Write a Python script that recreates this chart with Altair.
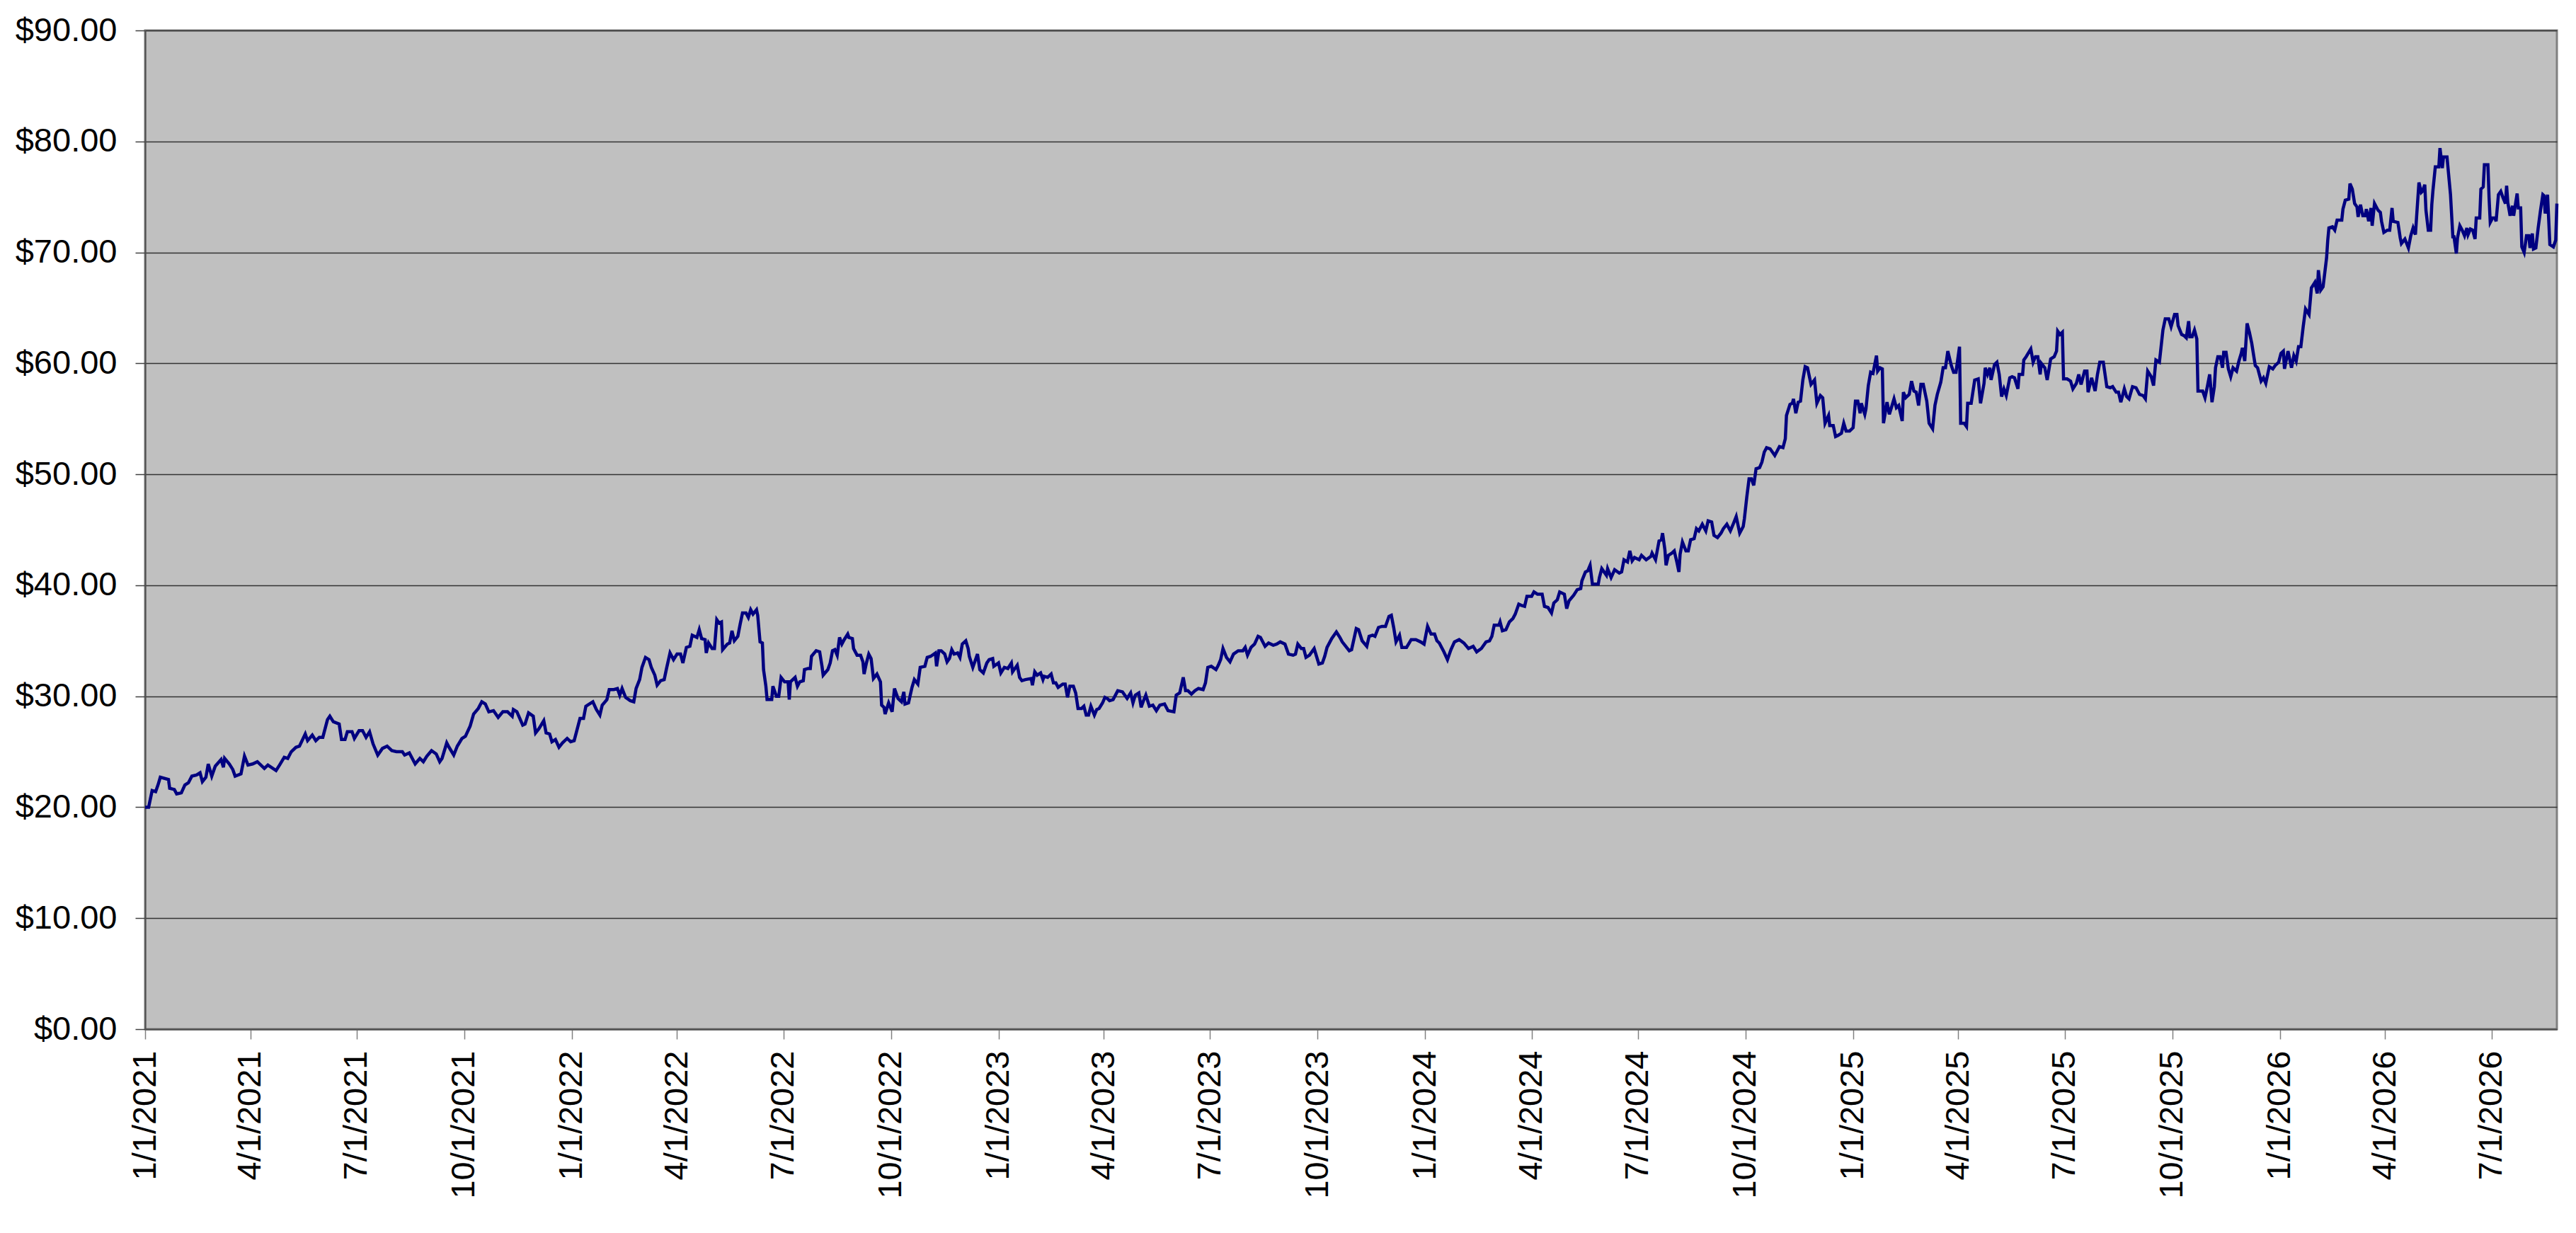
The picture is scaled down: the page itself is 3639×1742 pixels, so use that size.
import altair as alt
import pandas as pd

# (days since 1/1/2021, price), segment by segment
seg_2021 = [(0, 20.0), (3, 20.0), (6, 21.5), (9, 21.4), (11, 22.0), (13, 22.7), (20, 22.5), (21, 21.7),
            (25, 21.6), (27, 21.2), (31, 21.3), (34, 22.0), (37, 22.2), (40, 22.8), (44, 22.9), (47, 23.1),
            (49, 22.3), (52, 22.7), (54, 23.9), (57, 22.8), (60, 23.7), (65, 24.3), (67, 23.6), (68, 24.4),
            (72, 23.9), (75, 23.4), (77, 22.8), (82, 23.0), (85, 24.6), (88, 23.8), (92, 23.9), (96, 24.1),
            (102, 23.5), (105, 23.8), (112, 23.3), (115, 23.8), (119, 24.5), (122, 24.4), (125, 25.0),
            (129, 25.4), (132, 25.5), (137, 26.6), (139, 26.0), (143, 26.5), (146, 26.0), (149, 26.3),
            (152, 26.3), (156, 27.9), (158, 28.2), (161, 27.7), (166, 27.5), (168, 26.1), (171, 26.1),
            (173, 26.8), (177, 26.8), (179, 26.2), (183, 26.9), (186, 26.9), (189, 26.3), (192, 26.8),
            (195, 25.7), (199, 24.7), (203, 25.3), (207, 25.5), (211, 25.1), (215, 25.0), (220, 25.0),
            (222, 24.7), (226, 24.9), (231, 23.9), (235, 24.4), (238, 24.1), (241, 24.6), (245, 25.1),
            (249, 24.8), (252, 24.1), (254, 24.4), (258, 25.8), (260, 25.4), (264, 24.7), (267, 25.5),
            (271, 26.2), (274, 26.4), (278, 27.3), (281, 28.4), (285, 28.9), (288, 29.5), (291, 29.3),
            (294, 28.6), (298, 28.7), (302, 28.1), (306, 28.6), (310, 28.6), (314, 28.2), (315, 28.8),
            (318, 28.6), (323, 27.4), (325, 27.5), (328, 28.5), (332, 28.2), (334, 26.7), (337, 27.1),
            (341, 27.8), (343, 26.7), (346, 26.6), (348, 25.9)]

seg_2022 = [(351, 26.1), (354, 25.4), (357, 25.8), (361, 26.2), (364, 25.9), (367, 26.0), (369, 26.8),
            (372, 28.0), (375, 28.0), (377, 29.1), (380, 29.3), (383, 29.5), (386, 28.8), (389, 28.3),
            (391, 29.2), (395, 29.7), (397, 30.6), (401, 30.6), (404, 30.7), (406, 30.1), (408, 30.7),
            (411, 29.9), (415, 29.6), (418, 29.5), (420, 30.7), (423, 31.5), (425, 32.6), (428, 33.5),
            (431, 33.3), (433, 32.6), (436, 31.9), (438, 31.0), (441, 31.4), (444, 31.5), (446, 32.5),
            (449, 33.9), (452, 33.3), (455, 33.8), (458, 33.8), (460, 33.0), (463, 34.4), (466, 34.5),
            (468, 35.5), (472, 35.3), (474, 36.0), (476, 35.2), (479, 35.1), (480, 33.9), (482, 34.8),
            (485, 34.3), (487, 34.3), (489, 36.9), (491, 36.6), (493, 36.7), (494, 34.2), (498, 34.7),
            (500, 34.8), (502, 35.9), (504, 35.0), (507, 35.4), (509, 36.5), (511, 37.5), (514, 37.5),
            (516, 37.1), (518, 37.8), (520, 37.4), (523, 37.8), (524, 37.3), (526, 34.9), (528, 34.8),
            (529, 32.4), (531, 30.9), (532, 29.7), (536, 29.7), (537, 30.9), (540, 30.0), (542, 30.0),
            (544, 31.7), (547, 31.3), (550, 31.3), (551, 29.7), (552, 31.3), (556, 31.7), (558, 30.9),
            (560, 31.3), (563, 31.4), (564, 32.4), (567, 32.5), (569, 32.5), (570, 33.6), (574, 34.1),
            (577, 34.0), (579, 32.7), (580, 31.9), (584, 32.4), (586, 33.0), (588, 34.1), (590, 34.2),
            (592, 33.7), (594, 35.3), (596, 34.7), (598, 35.1), (601, 35.6), (602, 35.3), (605, 35.2),
            (606, 34.3), (609, 33.7), (612, 33.7), (614, 33.1), (615, 32.0), (617, 33.0), (619, 33.8),
            (621, 33.4), (623, 31.6), (626, 32.0), (629, 31.3), (630, 29.2), (632, 29.0), (633, 28.4),
            (636, 29.4), (639, 28.6), (641, 30.7), (644, 29.8), (647, 29.5), (649, 30.4), (650, 29.3),
            (653, 29.4), (656, 30.8), (658, 31.5), (661, 31.1), (663, 32.6), (667, 32.7), (669, 33.5),
            (672, 33.6), (676, 33.9), (677, 32.7), (679, 34.1), (681, 34.1), (684, 33.8), (686, 33.1),
            (688, 33.4), (690, 34.2), (692, 33.8)]

seg_2023 = [(695, 33.9), (697, 33.5), (699, 34.7), (702, 35.0), (704, 34.3), (705, 33.6), (708, 32.6),
            (712, 33.8), (714, 32.4), (717, 32.1), (720, 33.0), (722, 33.3), (725, 33.4), (726, 32.7),
            (730, 33.0), (732, 32.1), (735, 32.6), (738, 32.5), (741, 33.0), (742, 32.2), (746, 32.8),
            (748, 31.7), (750, 31.4), (753, 31.5), (758, 31.6), (759, 31.0), (761, 32.2), (763, 31.9),
            (766, 32.1), (768, 31.5), (769, 31.8), (772, 31.7), (775, 32.0), (777, 31.2), (779, 31.2),
            (781, 30.8), (785, 31.1), (787, 31.1), (789, 29.9), (791, 30.9), (794, 30.9), (796, 30.3),
            (798, 28.9), (801, 28.9), (803, 29.1), (805, 28.3), (807, 28.3), (809, 29.1), (812, 28.3),
            (814, 28.8), (816, 28.9), (819, 29.4), (821, 29.9), (823, 29.8), (825, 29.6), (828, 29.7),
            (832, 30.5), (836, 30.4), (840, 29.8), (843, 30.3), (845, 29.4), (847, 30.1), (850, 30.3),
            (852, 29.0), (854, 29.6), (856, 30.1), (859, 29.1), (862, 29.2), (865, 28.7), (868, 29.2),
            (872, 29.3), (875, 28.7), (880, 28.6), (882, 30.1), (885, 30.3), (888, 31.7), (890, 30.5),
            (892, 30.5), (895, 30.2), (898, 30.5), (901, 30.7), (905, 30.6), (907, 31.2), (909, 32.6),
            (912, 32.7), (916, 32.4), (918, 32.8), (920, 33.3), (922, 34.3), (925, 33.5), (928, 33.1),
            (931, 33.8), (935, 34.1), (939, 34.1), (941, 34.4), (943, 33.7), (946, 34.4), (949, 34.7),
            (952, 35.4), (954, 35.3), (958, 34.5), (961, 34.8), (965, 34.6), (968, 34.7), (971, 34.9),
            (975, 34.7), (978, 33.8), (982, 33.7), (984, 33.8), (986, 34.7), (989, 34.3), (991, 34.3),
            (993, 33.5), (996, 33.7), (1000, 34.3), (1002, 33.6), (1004, 32.9), (1007, 33.0), (1009, 33.6),
            (1011, 34.4), (1015, 35.2), (1019, 35.8), (1022, 35.3), (1024, 34.9), (1027, 34.5),
            (1030, 34.1), (1032, 34.2)]

seg_2024 = [(1036, 36.1), (1038, 36.0), (1041, 35.0), (1045, 34.5), (1047, 35.4), (1050, 35.5),
            (1052, 35.4), (1055, 36.2), (1058, 36.3), (1061, 36.3), (1064, 37.2), (1066, 37.3),
            (1068, 36.2), (1070, 34.9), (1073, 35.5), (1075, 34.4), (1079, 34.4), (1083, 35.1),
            (1087, 35.1), (1091, 34.9), (1094, 34.7), (1097, 36.3), (1100, 35.6), (1103, 35.6),
            (1105, 35.0), (1107, 34.8), (1111, 34.0), (1114, 33.3), (1117, 34.2), (1120, 34.9),
            (1124, 35.1), (1128, 34.8), (1132, 34.3), (1136, 34.5), (1139, 34.0), (1143, 34.3),
            (1147, 34.9), (1150, 35.0), (1152, 35.4), (1154, 36.4), (1158, 36.4), (1159, 36.7),
            (1161, 35.9), (1164, 36.0), (1167, 36.7), (1170, 37.0), (1172, 37.4), (1175, 38.3),
            (1177, 38.2), (1180, 38.1), (1182, 39.0), (1186, 39.0), (1188, 39.4), (1191, 39.2),
            (1195, 39.2), (1197, 38.1), (1200, 38.0), (1203, 37.5), (1205, 38.4), (1208, 38.7),
            (1210, 39.4), (1214, 39.2), (1216, 37.9), (1218, 38.6), (1222, 39.1), (1225, 39.6),
            (1228, 39.7), (1229, 40.4), (1232, 41.2), (1234, 41.3), (1236, 41.8), (1238, 40.1),
            (1243, 40.1), (1244, 40.7), (1246, 41.5), (1250, 40.9), (1251, 41.5), (1254, 40.7),
            (1257, 41.4), (1261, 41.1), (1263, 41.2), (1265, 42.3), (1268, 42.1), (1270, 43.1),
            (1272, 42.2), (1274, 42.5), (1278, 42.3), (1280, 42.7), (1284, 42.3), (1288, 42.6),
            (1289, 42.9), (1292, 42.3), (1295, 44.0), (1297, 44.1), (1298, 44.7), (1300, 43.2),
            (1301, 41.8), (1303, 42.7), (1306, 42.9), (1308, 43.1), (1310, 42.2), (1312, 41.2),
            (1313, 42.8), (1315, 43.9), (1318, 43.1), (1320, 43.1), (1322, 44.1), (1325, 44.2),
            (1327, 45.1), (1329, 44.9), (1332, 45.5), (1335, 44.9), (1337, 45.8), (1340, 45.7),
            (1342, 44.5), (1345, 44.3), (1348, 44.7), (1350, 45.1), (1353, 45.5), (1356, 44.9),
            (1358, 45.4), (1361, 46.2), (1364, 44.7), (1367, 45.3), (1368, 46.0), (1370, 47.9),
            (1372, 49.6), (1374, 49.6), (1376, 49.0), (1378, 50.5), (1381, 50.6), (1383, 51.1),
            (1385, 52.0), (1387, 52.4), (1390, 52.3), (1394, 51.7), (1398, 52.5), (1401, 52.4),
            (1403, 53.2)]

seg_2025 = [(1404, 55.3), (1407, 56.3), (1409, 56.4), (1410, 56.8), (1412, 55.5), (1414, 56.5),
            (1416, 56.6), (1418, 58.5), (1420, 59.7), (1422, 59.6), (1425, 58.1), (1428, 58.5),
            (1430, 56.4), (1433, 57.1), (1435, 56.9), (1437, 54.6), (1440, 55.3), (1441, 54.4),
            (1444, 54.4), (1446, 53.4), (1448, 53.5), (1451, 53.7), (1453, 54.6), (1455, 53.9),
            (1458, 53.9), (1461, 54.2), (1463, 56.6), (1465, 56.6), (1467, 55.5), (1468, 56.4),
            (1471, 55.4), (1472, 55.9), (1474, 58.0), (1476, 59.2), (1478, 59.1), (1481, 60.7),
            (1482, 59.3), (1484, 59.6), (1486, 59.5), (1487, 54.6), (1490, 56.5), (1492, 55.4),
            (1494, 56.1), (1496, 56.8), (1498, 56.0), (1500, 56.2), (1503, 54.8), (1504, 57.4),
            (1506, 56.9), (1509, 57.2), (1511, 58.4), (1513, 57.5), (1515, 57.4), (1517, 56.2),
            (1519, 58.1), (1521, 58.1), (1524, 56.6), (1526, 54.6), (1529, 54.1), (1531, 56.2),
            (1533, 57.2), (1536, 58.3), (1538, 59.6), (1540, 59.6), (1542, 61.1), (1545, 59.8),
            (1547, 59.2), (1549, 59.2), (1552, 61.5), (1553, 54.6), (1556, 54.6), (1558, 54.3),
            (1559, 56.4), (1562, 56.4), (1565, 58.5), (1568, 58.6), (1570, 56.4), (1573, 58.2),
            (1574, 59.6), (1576, 59.0), (1578, 59.6), (1579, 58.5), (1582, 59.9), (1584, 60.1),
            (1586, 59.0), (1588, 57.0), (1590, 57.7), (1592, 57.1), (1595, 58.7), (1597, 58.8),
            (1599, 58.7), (1602, 57.7), (1603, 59.0), (1606, 59.0), (1607, 60.3), (1609, 60.6),
            (1613, 61.3), (1615, 60.1), (1617, 60.6), (1619, 60.6), (1621, 59.0), (1622, 60.0),
            (1625, 59.6), (1627, 58.5), (1630, 60.4), (1633, 60.6), (1635, 61.1), (1636, 62.9),
            (1638, 62.6), (1640, 62.8), (1641, 58.6), (1644, 58.6), (1647, 58.4), (1649, 57.7),
            (1652, 58.2), (1654, 59.0), (1656, 58.1), (1659, 59.3), (1661, 59.3), (1662, 57.4),
            (1665, 58.7), (1668, 57.5), (1670, 59.0), (1672, 60.1), (1675, 60.1), (1678, 57.9),
            (1681, 57.8), (1683, 57.9), (1686, 57.4), (1688, 57.4), (1690, 56.5), (1693, 57.7),
            (1695, 57.0), (1697, 56.8), (1700, 57.9), (1703, 57.8), (1706, 57.2), (1709, 57.1),
            (1711, 56.8), (1713, 59.3), (1716, 58.8), (1718, 58.0), (1720, 60.3), (1723, 60.1),
            (1726, 63.0)]

seg_2026 = [(1728, 64.0), (1731, 64.0), (1733, 63.3), (1736, 64.4), (1738, 64.4), (1739, 63.4),
            (1742, 62.6), (1744, 62.5), (1746, 62.3), (1748, 63.8), (1749, 62.4), (1751, 62.4),
            (1753, 63.0), (1755, 62.2), (1756, 57.5), (1760, 57.5), (1762, 56.9), (1764, 57.9),
            (1766, 59.0), (1768, 56.5), (1770, 57.9), (1771, 59.6), (1773, 60.6), (1775, 60.6),
            (1777, 59.6), (1778, 61.0), (1780, 61.0), (1782, 59.5), (1784, 58.8), (1786, 59.6),
            (1789, 59.3), (1791, 60.2), (1793, 60.9), (1794, 61.4), (1796, 60.2), (1798, 63.6),
            (1800, 62.8), (1802, 61.8), (1805, 59.8), (1807, 59.6), (1810, 58.4), (1812, 58.7),
            (1814, 58.2), (1817, 59.7), (1820, 59.5), (1822, 59.8), (1825, 60.1), (1827, 60.9),
            (1829, 61.1), (1830, 59.5), (1833, 61.1), (1835, 60.1), (1836, 59.6), (1838, 60.7),
            (1840, 60.2), (1842, 61.5), (1844, 61.5), (1846, 63.3), (1848, 64.9), (1851, 64.4),
            (1853, 66.8), (1856, 67.3), (1858, 66.3), (1859, 68.4), (1861, 66.6), (1863, 66.9),
            (1866, 69.5), (1867, 71.1), (1868, 72.2), (1871, 72.3), (1873, 72.0), (1875, 72.9),
            (1879, 72.9), (1880, 73.9), (1882, 74.7), (1885, 74.8), (1886, 76.2), (1888, 75.7),
            (1890, 74.4), (1892, 74.1), (1893, 73.2), (1895, 74.3), (1897, 73.3), (1899, 73.3),
            (1900, 73.9), (1902, 72.8), (1904, 74.0), (1905, 72.4), (1907, 74.4), (1910, 73.8),
            (1912, 73.6), (1913, 72.8), (1915, 71.8), (1918, 72.0), (1920, 72.0), (1922, 74.0),
            (1923, 72.8), (1927, 72.7), (1929, 71.3), (1930, 70.8), (1933, 71.2), (1936, 70.4),
            (1938, 71.5), (1940, 72.2), (1942, 71.6), (1943, 73.2), (1945, 76.3), (1947, 75.4),
            (1948, 75.5), (1950, 76.1), (1951, 73.8), (1953, 72.0), (1955, 72.0), (1956, 74.3),
            (1957, 75.6), (1959, 77.7), (1962, 77.7), (1963, 79.4), (1965, 77.6), (1966, 78.6),
            (1969, 78.6), (1972, 75.2), (1974, 71.4), (1975, 71.4), (1977, 69.9), (1978, 71.3),
            (1980, 72.4), (1982, 72.0), (1984, 71.5), (1986, 72.2), (1987, 71.6), (1989, 72.1),
            (1991, 72.0), (1993, 71.2), (1994, 73.1), (1997, 73.1), (1998, 75.7), (2000, 75.9),
            (2001, 77.9), (2004, 77.9), (2005, 74.9), (2006, 72.7), (2008, 73.1), (2010, 73.1),
            (2011, 72.8), (2013, 75.2), (2015, 75.5), (2017, 74.9), (2019, 74.4), (2020, 76.0),
            (2021, 74.5), (2023, 73.3), (2025, 74.2), (2026, 73.3), (2029, 75.3), (2030, 74.0),
            (2032, 74.0), (2033, 70.5), (2035, 70.0), (2037, 71.5), (2039, 71.5), (2040, 70.4),
            (2042, 71.7), (2043, 70.3), (2045, 70.4), (2047, 72.2), (2049, 73.8), (2051, 75.2),
            (2052, 75.1), (2053, 73.5), (2055, 75.2), (2057, 70.7), (2060, 70.5), (2062, 71.1),
            (2063, 74.4)]

y_ticks = [0, 10, 20, 30, 40, 50, 60, 70, 80, 90]
x_tick_months = [(y, m) for y in range(2021, 2027) for m in (1, 4, 7, 10) if not (y == 2026 and m == 10)]

points = seg_2021 + seg_2022 + seg_2023 + seg_2024 + seg_2025 + seg_2026
start = pd.Timestamp("2021-01-01")
df = pd.DataFrame({
    "date": [(start + pd.Timedelta(days=d)).strftime("%Y-%m-%d") for d, _ in points],
    "price": [p for _, p in points],
})

FONT = "Liberation Sans"

x_axis = alt.Axis(
    values=[alt.DateTime(year=y, month=m, date=1, utc=True) for y, m in x_tick_months],
    labelExpr="utcFormat(datum.value, '%-m/%-d/%Y')",
    labelAngle=270,
    labelFont=FONT,
    labelFontSize=47,
    labelColor="#000000",
    labelPadding=16,
    labelLimit=0,
    labelOverlap=False,
    labelFlush=False,
    tickSize=14,
    tickColor="#808080",
    tickWidth=1.5,
    domainColor="#505050",
    domainWidth=2,
    grid=False,
    title=None,
)

y_axis = alt.Axis(
    values=y_ticks,
    format="$.2f",
    labelFont=FONT,
    labelFontSize=47,
    labelColor="#000000",
    labelPadding=26,
    labelLimit=0,
    tickSize=14,
    tickColor="#404040",
    tickWidth=1.5,
    domainColor="#505050",
    domainWidth=2,
    grid=True,
    gridColor="#333333",
    gridWidth=1.5,
    title=None,
)

chart = (
    alt.Chart(df)
    .mark_line(color="#000080", strokeWidth=4.5)
    .encode(
        x=alt.X(
            "date:T",
            scale=alt.Scale(
                type="utc",
                domain=[
                    alt.DateTime(year=2021, month=1, date=1, utc=True),
                    alt.DateTime(year=2026, month=8, date=26, utc=True),
                ],
            ),
            axis=x_axis,
        ),
        y=alt.Y("price:Q", scale=alt.Scale(domain=[0, 90], nice=False), axis=y_axis),
    )
    .properties(
        width=3407,
        height=1411,
        autosize=alt.AutoSizeParams(type="none"),
        padding={"left": 197, "top": 35, "right": 19, "bottom": 280},
        background="#FFFFFF",
    )
    .configure_view(fill="#C0C0C0", stroke="#808080", strokeWidth=3)
)

chart.save("out.html", embed_options={"renderer": "svg", "actions": False})
